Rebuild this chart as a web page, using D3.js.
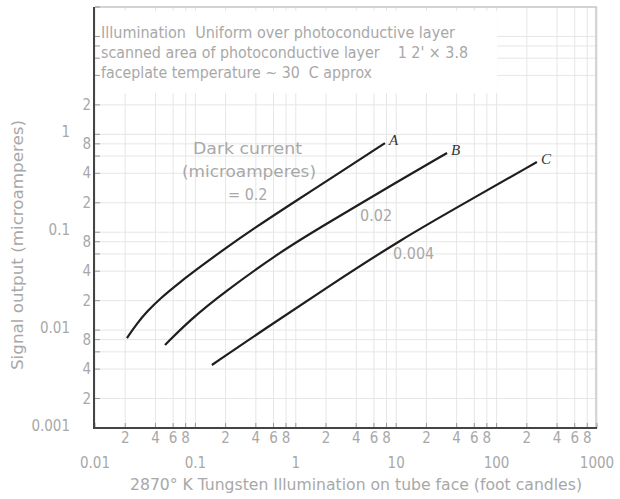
<!DOCTYPE html>
<html>
<head>
<meta charset="utf-8">
<script src="https://cdn.jsdelivr.net/npm/d3@7"></script>
<style>
  body { margin: 0; background: #fff; }
  svg text { font-family: "Liberation Sans Narrow", "DejaVu Sans Condensed", Roboto, sans-serif; fill: #a8a8a8; white-space: pre; }
</style>
</head>
<body>
<div id="chart"></div>
<script>
// curves: illumination (foot candles) vs signal output (microamperes)
var curveA = [[0.0208, 0.0083], [0.0262, 0.0117], [0.033, 0.0155], [0.0444, 0.021], [0.0703, 0.031], [0.111, 0.0441], [0.188, 0.0658], [0.375, 0.108], [1.03, 0.213], [2.95, 0.427], [7.73, 0.815]];
var curveB = [[0.0498, 0.00705], [0.0884, 0.0127], [0.188, 0.0239], [0.746, 0.0658], [1.87, 0.116], [10.9, 0.341], [32.1, 0.644]];
var curveC = [[0.146, 0.0044], [0.471, 0.010], [2.19, 0.0286], [10.9, 0.0832], [54.3, 0.213], [252, 0.521]];
var curveNames = ["A", "B", "C"];

var xDecades = [0.01, 0.1, 1, 10, 100, 1000];
var xDecadeLabels = ["0.01", "0.1", "1", "10", "100", "1000"];
var xMinor = [2, 4, 6, 8];
var yDecades = [0.001, 0.01, 0.1, 1];
var yDecadeLabels = ["0.001", "0.01", "0.1", "1"];
var yMinor = [2, 4, 8];

var noteLines = [
  "Illumination  Uniform over photoconductive layer",
  "scanned area of photoconductive layer    1 2' \u00d7 3.8",
  "faceplate temperature ~ 30  C approx"
];
var darkLabels = ["= 0.2", "0.02", "0.004"];

var w = 620, h = 499;
var svg = d3.select("#chart").append("svg").attr("width", w).attr("height", h);

var x = d3.scaleLog().domain([0.01, 1000]).range([95, 597]);
var y = d3.scaleLog().domain([0.001, 20]).range([428, 7]);

// grid
var gridX = [];
xDecades.forEach(function (d) {
  gridX.push(d);
  if (d < 1000) xMinor.forEach(function (m) { gridX.push(d * m); });
});
var gridY = [];
[0.001, 0.01, 0.1, 1, 10].forEach(function (d) {
  gridY.push(d);
  [2, 4, 6, 8].forEach(function (m) { if (d * m <= 20) gridY.push(d * m); });
});

svg.append("g").selectAll("line").data(gridX).enter().append("line")
  .attr("x1", function (d) { return x(d); }).attr("x2", function (d) { return x(d); })
  .attr("y1", y(20)).attr("y2", y(0.001))
  .style("stroke", "#e6e6e6").style("stroke-width", 1);
svg.append("g").selectAll("line").data(gridY).enter().append("line")
  .attr("x1", x(0.01)).attr("x2", x(1000))
  .attr("y1", function (d) { return y(d); }).attr("y2", function (d) { return y(d); })
  .style("stroke", "#e6e6e6").style("stroke-width", 1);

// blank area behind the notes
svg.append("rect").attr("x", x(0.01) + 2).attr("y", y(20) + 4)
  .attr("width", 400).attr("height", 82).style("fill", "#fff");

// frame top / right
svg.append("line").attr("x1", x(0.01)).attr("x2", x(1000)).attr("y1", y(20)).attr("y2", y(20))
  .style("stroke", "#c8c8c8").style("stroke-width", 1.5);
svg.append("line").attr("x1", x(1000) - 1).attr("x2", x(1000) - 1).attr("y1", y(20)).attr("y2", y(0.001))
  .style("stroke", "#c8c8c8").style("stroke-width", 1.5);

// small inner ticks
svg.append("g").selectAll("line").data(gridY).enter().append("line")
  .attr("x1", x(0.01)).attr("x2", x(0.01) + 5)
  .attr("y1", function (d) { return y(d); }).attr("y2", function (d) { return y(d); })
  .style("stroke", "#999");
svg.append("g").selectAll("line").data(gridX).enter().append("line")
  .attr("x1", function (d) { return x(d); }).attr("x2", function (d) { return x(d); })
  .attr("y1", y(0.001)).attr("y2", y(0.001) - 5)
  .style("stroke", "#999");

// axes
svg.append("line").attr("x1", x(0.01) - 1).attr("x2", x(0.01) - 1).attr("y1", y(20)).attr("y2", y(0.001) + 1)
  .style("stroke", "#444").style("stroke-width", 2);
svg.append("line").attr("x1", x(0.01) - 1).attr("x2", x(1000)).attr("y1", y(0.001)).attr("y2", y(0.001))
  .style("stroke", "#444").style("stroke-width", 2);

function mant(d) { return Math.round(d / Math.pow(10, Math.floor(Math.log10(d) + 1e-9))); }

// x tick labels
var xMinorTicks = [];
xDecades.slice(0, 5).forEach(function (d) { xMinor.forEach(function (m) { xMinorTicks.push(d * m); }); });
svg.append("g").selectAll("text").data(xMinorTicks).enter().append("text")
  .attr("x", function (d) { return x(d); }).attr("y", 443)
  .attr("text-anchor", "middle").style("font-size", "15px")
  .text(mant);
svg.append("g").selectAll("text").data(xDecades).enter().append("text")
  .attr("x", function (d) { return x(d); }).attr("y", 468)
  .attr("text-anchor", "middle").style("font-size", "15px")
  .text(function (d, i) { return xDecadeLabels[i]; });

// y tick labels
var yMinorTicks = [];
[0.001, 0.01, 0.1].forEach(function (d) { yMinor.forEach(function (m) { yMinorTicks.push(d * m); }); });
yMinorTicks.push(2);
svg.append("g").selectAll("text").data(yMinorTicks).enter().append("text")
  .attr("x", 91).attr("y", function (d) { return y(d) + 5; })
  .attr("text-anchor", "end").style("font-size", "15px")
  .text(mant);
svg.append("g").selectAll("text").data(yDecades).enter().append("text")
  .attr("x", 70).attr("y", function (d) { return y(d) + 3; })
  .attr("text-anchor", "end").style("font-size", "15px")
  .text(function (d, i) { return yDecadeLabels[i]; });

// axis titles
svg.append("text").attr("x", 356).attr("y", 490).attr("text-anchor", "middle")
  .style("font-size", "15px").attr("textLength", 452).attr("lengthAdjust", "spacingAndGlyphs")
  .text("2870\u00b0 K Tungsten Illumination on tube face (foot candles)");
svg.append("text").attr("transform", "translate(23,245) rotate(-90)").attr("text-anchor", "middle")
  .style("font-size", "16px").attr("textLength", 250).attr("lengthAdjust", "spacingAndGlyphs")
  .text("Signal output (microamperes)");

// note block
svg.append("g").selectAll("text").data(noteLines).enter().append("text")
  .attr("x", 101).attr("y", function (d, i) { return 38 + i * 20; })
  .style("font-size", "16px")
  .attr("textLength", function (d, i) { return [354, 367, 271][i]; })
  .attr("lengthAdjust", "spacingAndGlyphs")
  .text(function (d) { return d; });

// dark current annotations
svg.append("text").attr("x", 193).attr("y", 154).style("font-size", "16px")
  .attr("textLength", 109).attr("lengthAdjust", "spacingAndGlyphs").text("Dark current");
svg.append("text").attr("x", 182).attr("y", 177).style("font-size", "16px")
  .attr("textLength", 134).attr("lengthAdjust", "spacingAndGlyphs").text("(microamperes)");
var darkPos = [[228, 200], [360, 221], [393, 259]];
svg.append("g").selectAll("text").data(darkLabels).enter().append("text")
  .attr("x", function (d, i) { return darkPos[i][0]; })
  .attr("y", function (d, i) { return darkPos[i][1]; })
  .style("font-size", "16px")
  .text(function (d) { return d; });

// curves
var line = d3.line()
  .x(function (d) { return x(d[0]); })
  .y(function (d) { return y(d[1]); })
  .curve(d3.curveBasis);

var curves = [curveA, curveB, curveC];
svg.append("g").selectAll("path").data(curves).enter().append("path")
  .attr("d", line)
  .style("fill", "none").style("stroke", "#1e1e1e").style("stroke-width", 2.2);

svg.append("g").selectAll("text").data(curves).enter().append("text")
  .attr("x", function (d) { return x(d[d.length - 1][0]) + 4; })
  .attr("y", function (d) { return y(d[d.length - 1][1]) + 2; })
  .style("font-family", "'Liberation Serif', serif").style("font-style", "italic")
  .style("font-size", "15px").style("fill", "#333")
  .text(function (d, i) { return curveNames[i]; });
</script>
</body>
</html>
